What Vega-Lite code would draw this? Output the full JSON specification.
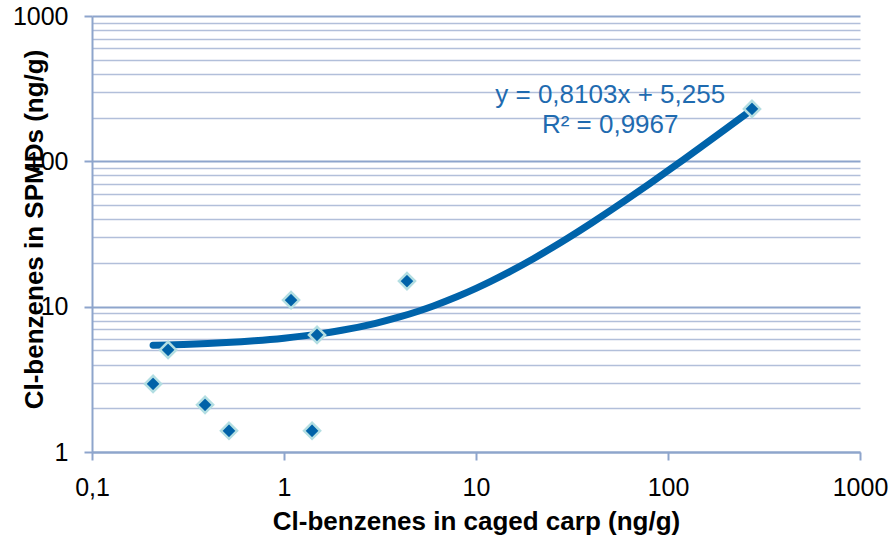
{
  "$schema": "https://vega.github.io/schema/vega-lite/v6.json",
  "width": 768,
  "height": 436,
  "autosize": {"type": "none"},
  "padding": {"left": 92, "top": 16, "right": 32, "bottom": 89},
  "background": "white",
  "config": {"view": {"stroke": null}, "font": "Liberation Sans"},
  "datasets": {
    "samples": [
      {"carp": 0.208, "spmd": 2.94},
      {"carp": 0.249, "spmd": 5.04},
      {"carp": 0.388, "spmd": 2.11},
      {"carp": 0.517, "spmd": 1.4},
      {"carp": 1.088, "spmd": 11.1},
      {"carp": 1.486, "spmd": 6.39},
      {"carp": 1.40, "spmd": 1.4},
      {"carp": 4.37, "spmd": 15.0},
      {"carp": 273.8, "spmd": 229.5}
    ],
    "fit": [
      {"carp": 0.208, "spmd": 5.4235},
      {"carp": 0.25, "spmd": 5.4576},
      {"carp": 0.3, "spmd": 5.4981},
      {"carp": 0.4, "spmd": 5.5791},
      {"carp": 0.5, "spmd": 5.6602},
      {"carp": 0.7, "spmd": 5.8222},
      {"carp": 1, "spmd": 6.0653},
      {"carp": 1.5, "spmd": 6.4705},
      {"carp": 2, "spmd": 6.8756},
      {"carp": 3, "spmd": 7.6859},
      {"carp": 4, "spmd": 8.4962},
      {"carp": 5, "spmd": 9.3065},
      {"carp": 6, "spmd": 10.1168},
      {"carp": 8, "spmd": 11.7374},
      {"carp": 10, "spmd": 13.358},
      {"carp": 12, "spmd": 14.9786},
      {"carp": 15, "spmd": 17.4095},
      {"carp": 20, "spmd": 21.461},
      {"carp": 25, "spmd": 25.5125},
      {"carp": 30, "spmd": 29.564},
      {"carp": 40, "spmd": 37.667},
      {"carp": 50, "spmd": 45.77},
      {"carp": 60, "spmd": 53.873},
      {"carp": 80, "spmd": 70.079},
      {"carp": 100, "spmd": 86.285},
      {"carp": 120, "spmd": 102.491},
      {"carp": 150, "spmd": 126.8},
      {"carp": 200, "spmd": 167.315},
      {"carp": 273.8, "spmd": 227.115}
    ],
    "fitLabel": [
      {"equation": "y = 0,8103x + 5,255", "r_squared": "R² = 0,9967"}
    ]
  },
  "layer": [
    {
      "data": {"name": "fit"},
      "mark": {"type": "line", "color": "#0063AA", "strokeWidth": 7, "strokeCap": "round", "interpolate": "monotone"},
      "encoding": {
        "x": {
          "field": "carp",
          "type": "quantitative",
          "scale": {"type": "log", "domain": [0.1, 1000], "nice": false},
          "axis": {
            "values": [0.1, 1, 10, 100, 1000],
            "title": "Cl-benzenes in caged carp (ng/g)",
            "grid": false,
            "domainColor": "#8EA5CC",
            "domainWidth": 2,
            "tickColor": "#8EA5CC",
            "tickWidth": 2,
            "tickSize": 8,
            "labelExpr": "replace(format(datum.value, '~g'), '.', ',')",
            "labelFontSize": 25,
            "labelColor": "#000000",
            "labelPadding": 15,
            "labelOverlap": false,
            "labelBound": false,
            "labelFlush": false,
            "titleFontSize": 26,
            "titleFontWeight": "bold",
            "titleColor": "#000000",
            "titleBaseline": "alphabetic",
            "titleY": 77
          }
        },
        "y": {
          "field": "spmd",
          "type": "quantitative",
          "scale": {"type": "log", "domain": [1, 1000], "nice": false},
          "axis": {
            "values": [1, 2, 3, 4, 5, 6, 7, 8, 9, 10, 20, 30, 40, 50, 60, 70, 80, 90, 100, 200, 300, 400, 500, 600, 700, 800, 900, 1000],
            "title": "Cl-benzenes in SPMDs (ng/g)",
            "grid": true,
            "gridColor": {"condition": {"test": "abs(log(datum.value) / LN10 - round(log(datum.value) / LN10)) < 1e-6", "value": "#8EA5CC"}, "value": "#B2BFDA"},
            "gridWidth": {"condition": {"test": "abs(log(datum.value) / LN10 - round(log(datum.value) / LN10)) < 1e-6", "value": 2}, "value": 1.7},
            "domainColor": "#8EA5CC",
            "domainWidth": 2,
            "tickColor": "#8EA5CC",
            "tickWidth": 2,
            "tickSize": 8,
            "tickOpacity": {"condition": {"test": "abs(log(datum.value) / LN10 - round(log(datum.value) / LN10)) < 1e-6", "value": 1}, "value": 0},
            "labelExpr": "abs(log(datum.value) / LN10 - round(log(datum.value) / LN10)) < 1e-6 ? format(datum.value, 'd') : ''",
            "labelFontSize": 25,
            "labelColor": "#000000",
            "labelPadding": 16,
            "labelOverlap": false,
            "labelBound": false,
            "labelFlush": false,
            "titleFontSize": 26,
            "titleFontWeight": "bold",
            "titleColor": "#000000",
            "titleAngle": 270,
            "titleAlign": "center",
            "titleBaseline": "alphabetic",
            "titleX": -50,
            "titleY": 213
          }
        }
      }
    },
    {
      "data": {"name": "samples"},
      "mark": {"type": "point", "shape": "diamond", "filled": true, "size": 260, "fill": "#0062A8", "stroke": "#B3DEE2", "strokeWidth": 2.5, "opacity": 1},
      "encoding": {
        "x": {"field": "carp", "type": "quantitative"},
        "y": {"field": "spmd", "type": "quantitative"}
      }
    },
    {
      "data": {"name": "fitLabel"},
      "mark": {"type": "text", "align": "center", "baseline": "alphabetic", "fontSize": 26, "color": "#1F6BB0"},
      "encoding": {
        "x": {"datum": 50, "type": "quantitative"},
        "y": {"datum": 251, "type": "quantitative"},
        "text": {"field": "equation"}
      }
    },
    {
      "data": {"name": "fitLabel"},
      "mark": {"type": "text", "align": "center", "baseline": "alphabetic", "fontSize": 26, "color": "#1F6BB0", "dy": 29.4},
      "encoding": {
        "x": {"datum": 50, "type": "quantitative"},
        "y": {"datum": 251, "type": "quantitative"},
        "text": {"field": "r_squared"}
      }
    }
  ]
}
